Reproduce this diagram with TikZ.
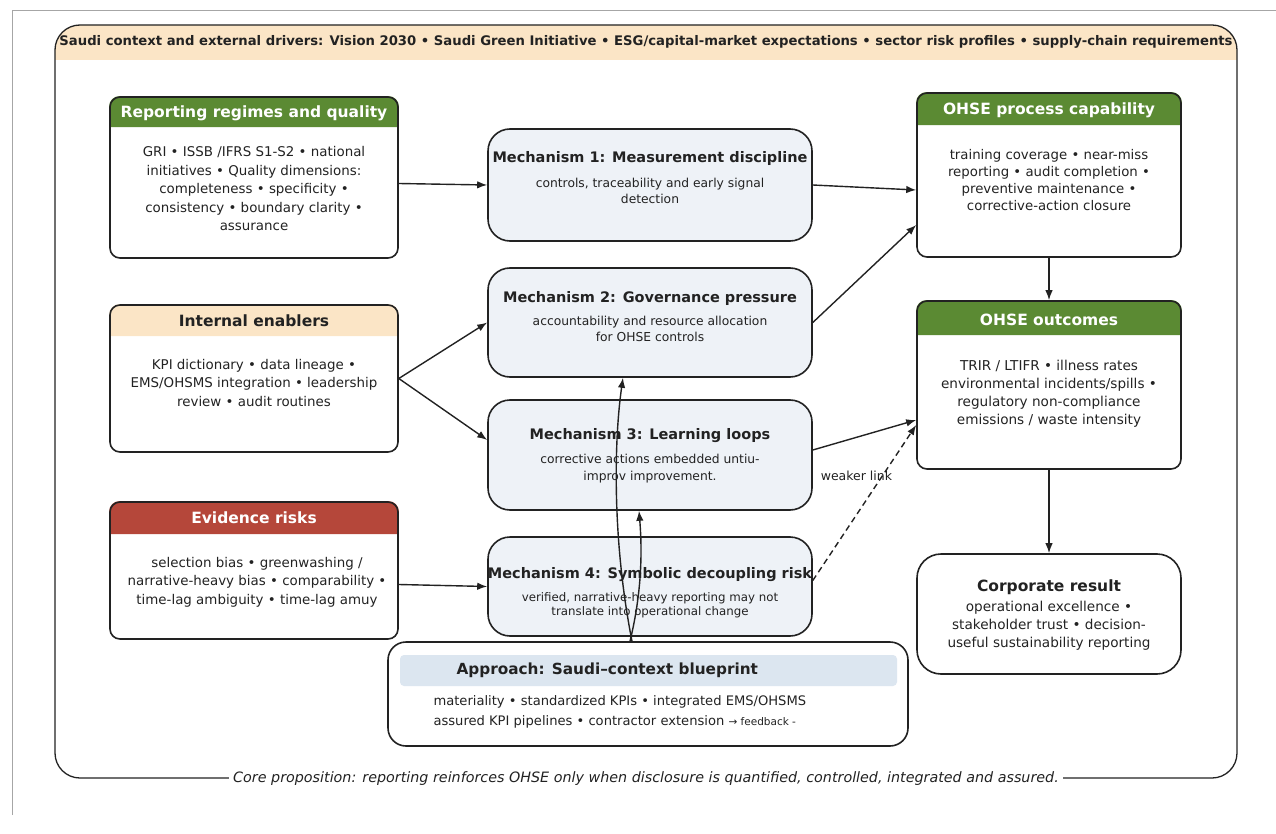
\documentclass[tikz,border=0pt]{standalone}
\usepackage{fontspec}
\setmainfont{DejaVu Sans}
\definecolor{myGreen}{RGB}{91,138,51}
\definecolor{myBeige}{RGB}{251,229,198}
\definecolor{myRed}{RGB}{181,71,58}
\definecolor{myMech}{RGB}{238,242,247}
\definecolor{myBand}{RGB}{220,230,240}
\definecolor{myLine}{RGB}{34,34,34}
\usetikzlibrary{arrows.meta,positioning,backgrounds}

\begin{document}
\begin{tikzpicture}[x=1pt,y=-1pt,
    card/.style={draw=myLine, line width=1.6pt, rounded corners=10pt, inner sep=0pt},
    mech/.style={card, fill=myMech, rounded corners=22pt},
    hdr/.style={font=\fontsize{15.5}{18}\selectfont\bfseries},
    body/.style={align=center, text=myLine, font=\fontsize{13.4}{18.5}\selectfont},
    mtitle/.style={text=myLine, font=\fontsize{14.5}{17}\selectfont\bfseries},
    mbody/.style={align=center, text=myLine, font=\fontsize{12.3}{16.5}\selectfont},
    arr/.style={-{Latex[length=10pt,width=7.5pt]}, line width=1.4pt, draw=myLine}]
                \useasboundingbox (0,0) rectangle (1276,834);
                \draw[black!35, line width=0.8pt] (12,815) -- (12,10) -- (1276,10);

                % outer frame with the context banner
                \fill[myBeige] (55,60) [rounded corners=25pt] -- (55,25) -- (1237,25) [sharp corners] -- (1237,60) -- cycle;
                \node[draw=myLine, line width=1.3pt, rounded corners=25pt, minimum width=1182pt, minimum height=753pt] (frame) at (646,401.5) {};
                \node[text=myLine, font=\fontsize{13.2}{15}\selectfont\bfseries] (banner) at (646,42) {Saudi context and external drivers: Vision 2030 • Saudi Green Initiative • ESG/capital-market expectations • sector risk profiles • supply-chain requirements};
                \node[fill=white, inner xsep=4pt, text=myLine, font=\fontsize{14.3}{16}\selectfont\itshape] (cap) at (frame.south) {Core proposition: reporting reinforces OHSE only when disclosure is quantified, controlled, integrated and assured.};

                % left column
                \node[card, minimum width=288pt, minimum height=161pt] (rep) at (254,177.5) {};
                \node[hdr, text=white] (repH) at (254,113) {Reporting regimes and quality};
                \node[body] (repB) at (254,189) {GRI • ISSB /IFRS S1-S2 • national\\initiatives • Quality dimensions:\\completeness • specificity •\\consistency • boundary clarity •\\assurance};

                \node[card, minimum width=288pt, minimum height=147pt] (ie) at (254,378.5) {};
                \node[hdr, text=myLine] (ieH) at (254,321) {Internal enablers};
                \node[body] (ieB) at (254,383) {KPI dictionary • data lineage •\\EMS/OHSMS integration • leadership\\review • audit routines};

                \node[card, minimum width=288pt, minimum height=137pt] (ev) at (254,570.5) {};
                \node[hdr, text=white] (evH) at (254,518) {Evidence risks};
                \node[body] (evB) at (257,582) {selection bias • greenwashing /\\narrative-heavy bias • comparability •\\time-lag ambiguity • time-lag amuy};

                % mechanisms
                \node[mech, minimum width=324pt, minimum height=112pt] (m1) at (650,185) {};
                \node[mtitle] (m1T) at (650,159) {Mechanism 1: Measurement discipline};
                \node[mbody] (m1B) at (650,191) {controls, traceability and early signal\\detection};

                \node[mech, minimum width=324pt, minimum height=109pt] (m2) at (650,322.5) {};
                \node[mtitle] (m2T) at (650,298) {Mechanism 2: Governance pressure};
                \node[mbody] (m2B) at (650,329) {accountability and resource allocation\\for OHSE controls};

                \node[mech, minimum width=324pt, minimum height=110pt] (m3) at (650,455) {};
                \node[mtitle] (m3T) at (650,436) {Mechanism 3: Learning loops};
                \node[mbody] (m3B) at (650,468.5) {corrective actions embedded untiu-\\improv improvement.};

                \node[mech, minimum width=324pt, minimum height=99pt] (m4) at (650,586.5) {};
                \node[mtitle] (m4T) at (650,575) {Mechanism 4: Symbolic decoupling risk};
                \node[mbody, font=\fontsize{11.8}{14}\selectfont] (m4B) at (650,605) {verified, narrative-heavy reporting may not\\translate into operational change};

                % right column
                \node[card, minimum width=264pt, minimum height=164pt] (proc) at (1049,175) {};
                \node[hdr, text=white] (procH) at (1049,110) {OHSE process capability};
                \node[body, font=\fontsize{13.3}{17}\selectfont] (procB) at (1049,180) {training coverage • near-miss\\reporting • audit completion •\\preventive maintenance •\\corrective-action closure};

                \node[card, minimum width=264pt, minimum height=168pt] (out) at (1049,385) {};
                \node[hdr, text=white] (outH) at (1049,320) {OHSE outcomes};
                \node[body, font=\fontsize{13.6}{18}\selectfont] (outB) at (1049,394) {TRIR / LTIFR • illness rates\\environmental incidents/spills •\\regulatory non-compliance\\emissions / waste intensity};

                \node[card, rounded corners=24pt, minimum width=264pt, minimum height=120pt] (corp) at (1049,614) {};
                \node[hdr, text=myLine] (corpT) at (1049,587) {Corporate result};
                \node[body, font=\fontsize{13.6}{18}\selectfont] (corpB) at (1049,626) {operational excellence •\\stakeholder trust • decision-\\useful sustainability reporting};

                % approach
                \node[card, fill=white, rounded corners=18pt, minimum width=520pt, minimum height=104pt] (appr) at (648,694) {};
                \node[fill=myBand, rounded corners=4pt, minimum width=497pt, minimum height=31pt, inner sep=0pt] (apprBand) at (648.5,670.5) {};
                \node[anchor=west, text=myLine, font=\fontsize{15.3}{18}\selectfont\bfseries] (apprT) at (453,670) {Approach: Saudi–context blueprint};
                \node[anchor=west, align=left, text=myLine, font=\fontsize{13.1}{20}\selectfont] (apprB) at (430,712) {materiality • standardized KPIs • integrated EMS/OHSMS\\assured KPI pipelines • contractor extension {\fontsize{10.5}{12}\selectfont → feedback -}};

                % header bands
                \begin{scope}[on background layer]
                \fill[myGreen] ([yshift=-31pt]rep.north west) [rounded corners=10pt] -- (rep.north west) -- (rep.north east) [sharp corners] -- ([yshift=-31pt]rep.north east) -- cycle;
                \fill[myBeige] ([yshift=-32pt]ie.north west) [rounded corners=10pt] -- (ie.north west) -- (ie.north east) [sharp corners] -- ([yshift=-32pt]ie.north east) -- cycle;
                \fill[myRed] ([yshift=-33pt]ev.north west) [rounded corners=10pt] -- (ev.north west) -- (ev.north east) [sharp corners] -- ([yshift=-33pt]ev.north east) -- cycle;
                \fill[myGreen] ([yshift=-33pt]proc.north west) [rounded corners=10pt] -- (proc.north west) -- (proc.north east) [sharp corners] -- ([yshift=-33pt]proc.north east) -- cycle;
                \fill[myGreen] ([yshift=-35pt]out.north west) [rounded corners=10pt] -- (out.north west) -- (out.north east) [sharp corners] -- ([yshift=-35pt]out.north east) -- cycle;
                \end{scope}

                % connectors
                \draw[arr] ([yshift=-6pt]rep.east) -- (m1.west);
                \draw[arr] (ie.east) -- (m2.west);
                \draw[arr] (ie.east) -- ([yshift=15pt]m3.west);
                \draw[arr] ([yshift=-14pt]ev.east) -- (m4.west);
                \draw[arr] (m1.east) -- ([yshift=-15pt]proc.west);
                \draw[arr] (m2.east) -- ([yshift=-50pt]proc.west);
                \draw[arr] ([yshift=5pt]m3.east) -- ([yshift=-35pt]out.west);
                \draw[arr, dash pattern=on 6pt off 4pt] ([yshift=6pt]m4.east) -- node[pos=0.67, left=-14pt, text=myLine, font=\fontsize{12.5}{15}\selectfont] (wl) {weaker link} ([yshift=-40pt]out.west);
                \draw[arr] (proc.south) -- (out.north);
                \draw[arr] (out.south) -- (corp.north);
                \draw[arr] ([xshift=-16pt]appr.north) .. controls (612,540) and (614,440) .. ([xshift=-27pt]m2.south);
                \draw[arr] ([xshift=-18pt]appr.north) .. controls (640,600) and (643,560) .. ([xshift=-11pt]m3.south);
            \end{tikzpicture}
\end{document}
